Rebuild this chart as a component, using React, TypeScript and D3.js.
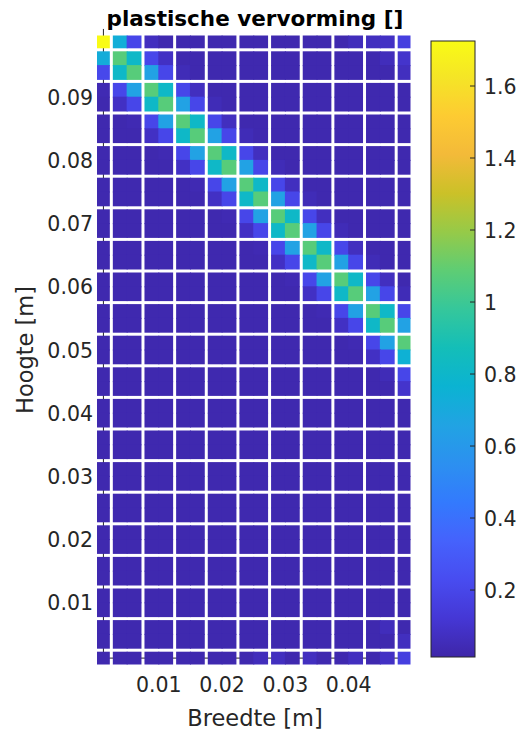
import React, { useMemo } from 'react';
import * as d3 from 'd3';

const WIDTH = 518;
const HEIGHT = 733;

// integration point grid: 20 columns x 40 rows, 0.0025 m each
const nCols = 20;
const nRows = 40;
const cellSize = 0.0025;

const xTicks = [0.01, 0.02, 0.03, 0.04];
const xTickLabels = ['0.01', '0.02', '0.03', '0.04'];
const yTicks = [0.01, 0.02, 0.03, 0.04, 0.05, 0.06, 0.07, 0.08, 0.09];
const yTickLabels = ['0.01', '0.02', '0.03', '0.04', '0.05', '0.06', '0.07', '0.08', '0.09'];
const cbTicks = [0.2, 0.4, 0.6, 0.8, 1.0, 1.2, 1.4, 1.6];
const cbTickLabels = ['0.2', '0.4', '0.6', '0.8', '1', '1.2', '1.4', '1.6'];

const colorMin = 0.014;
const colorMax = 1.725;
const backgroundLevel = 0.03;

// shear band, one entry per row from the top: values at column offsets -3..+3 from the diagonal
const bandRows: (number | null)[][] = [
    [null, null, null, 1.725, 0.73, 0.2, 0.07],
    [null, null, 0.72, 1.07, 0.81, 0.2, 0.08],
    [null, 0.21, 0.81, 1.07, 0.65, 0.2, 0.05],
    [0.04, 0.2, 0.65, 1.07, 0.81, 0.2, 0.07],
    [0.08, 0.2, 0.81, 1.07, 0.65, 0.2, 0.05],
    [0.04, 0.2, 0.65, 1.07, 0.81, 0.2, 0.07],
    [0.08, 0.2, 0.81, 1.07, 0.65, 0.2, 0.05],
    [0.04, 0.2, 0.65, 1.07, 0.81, 0.2, 0.07],
    [0.08, 0.2, 0.81, 1.07, 0.65, 0.2, 0.05],
    [0.04, 0.2, 0.65, 1.07, 0.81, 0.2, 0.07],
    [0.08, 0.2, 0.81, 1.07, 0.65, 0.2, 0.05],
    [0.04, 0.2, 0.65, 1.07, 0.81, 0.2, 0.07],
    [0.08, 0.2, 0.81, 1.07, 0.65, 0.2, 0.05],
    [0.04, 0.2, 0.65, 1.07, 0.81, 0.2, 0.07],
    [0.08, 0.2, 0.81, 1.07, 0.65, 0.2, 0.05],
    [0.04, 0.2, 0.65, 1.07, 0.81, 0.2, 0.07],
    [0.08, 0.2, 0.81, 1.07, 0.65, 0.2, 0.05],
    [0.04, 0.2, 0.65, 1.07, 0.81, 0.2, null],
    [0.08, 0.2, 0.81, 1.07, 0.65, null, null],
    [0.04, 0.2, 0.65, 1.07, null, null, null],
    [0.08, 0.2, 0.75, null, null, null, null],
    [0.05, 0.2, null, null, null, null, null],
    [0.1, null, null, null, null, null, null],
];

// slightly lighter cells in the otherwise flat background: [row, col, value]
const faintCells: [number, number, number][] = [
    [0, 16, 0.06], [0, 17, 0.07], [0, 18, 0.08], [0, 19, 0.16],
    [1, 18, 0.06], [1, 19, 0.1], [2, 19, 0.07],
    [39, 10, 0.06], [39, 11, 0.07], [39, 13, 0.07], [39, 16, 0.07], [39, 18, 0.08], [39, 19, 0.16],
    [38, 19, 0.07], [37, 18, 0.06],
];

// MATLAB parula, every 16th entry of the 256-entry table
const parula: [number, number, number][] = [
    [0.2422, 0.1504, 0.6603], [0.2704, 0.2138, 0.8346], [0.2813, 0.2985, 0.9397],
    [0.2710, 0.3860, 0.9898], [0.2006, 0.4803, 0.9906], [0.1716, 0.5655, 0.9393],
    [0.1288, 0.6408, 0.8910], [0.0433, 0.7039, 0.8242], [0.0770, 0.7468, 0.7224],
    [0.2061, 0.7808, 0.6065], [0.3671, 0.8021, 0.4563], [0.5886, 0.7913, 0.2833],
    [0.7945, 0.7554, 0.1570], [0.9523, 0.7284, 0.2237], [0.9938, 0.7974, 0.1974],
    [0.9601, 0.8963, 0.1507], [0.9769, 0.9839, 0.0805],
];

const FONT = '"DejaVu Sans", sans-serif';
const AXIS_COLOR = '#262626';

export default function App() {
    const x = d3.scaleLinear().domain([0, 0.05]).range([95.5, 412]);
    const y = d3.scaleLinear().domain([0, 0.1]).range([666, 34]);
    const cb = d3.scaleLinear().domain([colorMin, colorMax]).range([657, 41]);

    const stopT = parula.map((_, i) => Math.min(1, (i * 16) / 255));
    const stopColors = parula.map(([r, g, b]) => d3.rgb(r * 255, g * 255, b * 255).formatHex());
    const tScale = d3.scaleLinear().domain([colorMin, colorMax]).range([0, 1]).clamp(true);
    const colorOfT = d3.scaleLinear<string>().domain(stopT).range(stopColors).interpolate(d3.interpolateRgb);
    const color = (v: number) => colorOfT(tScale(v));

    const grid = useMemo(() => {
        const g: number[][] = d3.range(nRows).map(() => d3.range(nCols).map(() => backgroundLevel));
        faintCells.forEach(([r, c, v]) => { g[r][c] = v; });
        bandRows.forEach((vals, r) => {
            vals.forEach((v, k) => {
                const c = r + k - 3;
                if (v !== null && c >= 0 && c < nCols) g[r][c] = v;
            });
        });
        return g;
    }, []);

    // elements group the points in pairs, shifted by one: [0], [1,2], ... , [17,18], [19]
    const gap = 1.5;
    const cells: JSX.Element[] = [];
    grid.forEach((row, r) => {
        row.forEach((v, c) => {
            const leftEdge = c === 0 || c % 2 === 1;
            const rightEdge = c === nCols - 1 || c % 2 === 0;
            const topEdge = r === 0 || r % 2 === 1;
            const bottomEdge = r === nRows - 1 || r % 2 === 0;
            const x0 = x(c * cellSize) + (leftEdge ? gap : -0.5);
            const x1 = x((c + 1) * cellSize) - (rightEdge ? gap : -0.5);
            const yTop = y(0.1 - r * cellSize) + (topEdge ? gap : -0.5);
            const yBot = y(0.1 - (r + 1) * cellSize) - (bottomEdge ? gap : -0.5);
            cells.push(
                <rect key={`${r}-${c}`} x={x0} y={yTop} width={x1 - x0} height={yBot - yTop} fill={color(v)} />
            );
        });
    });

    const axisX = x(cellSize / 2);
    const axisY = y(cellSize / 2);
    const cbLeft = 431;
    const cbRight = 475;

    return (
        <svg width={WIDTH} height={HEIGHT} style={{ position: 'absolute', left: 0, top: 0, background: '#fff' }}
            fontFamily={FONT}>
            <defs>
                <linearGradient id="parula" x1="0" y1="1" x2="0" y2="0">
                    {stopT.map((t, i) => <stop key={i} offset={t} stopColor={stopColors[i]} />)}
                </linearGradient>
            </defs>

            {/* axis lines sit underneath the element patches */}
            <line x1={axisX} x2={axisX} y1={axisY} y2={y(0.1008)} stroke={AXIS_COLOR} strokeWidth={1} />
            <line x1={axisX} x2={x(0.04875)} y1={axisY} y2={axisY} stroke={AXIS_COLOR} strokeWidth={1} />

            <g>{cells}</g>

            {/* tick labels */}
            {xTicks.map((t, i) => (
                <text key={`xt${i}`} x={x(t)} y={692} textAnchor="middle" fontSize={20.5} fill={AXIS_COLOR}>
                    {xTickLabels[i]}
                </text>
            ))}
            {yTicks.map((t, i) => (
                <text key={`yt${i}`} x={93} y={y(t) + 7.5} textAnchor="end" fontSize={20.5} fill={AXIS_COLOR}>
                    {yTickLabels[i]}
                </text>
            ))}

            <text x={255} y={726} textAnchor="middle" fontSize={22.5} fill={AXIS_COLOR}>Breedte [m]</text>
            <text transform={`translate(33, ${y(0.05)}) rotate(-90)`} textAnchor="middle" fontSize={22.5} fill={AXIS_COLOR}>
                Hoogte [m]
            </text>
            <text x={255} y={26} textAnchor="middle" fontSize={21.5} fontWeight="bold" fill="#000">
                plastische vervorming []
            </text>

            {/* colorbar */}
            <rect x={cbLeft} y={cb(colorMax)} width={cbRight - cbLeft} height={cb(colorMin) - cb(colorMax)}
                fill="url(#parula)" stroke={AXIS_COLOR} strokeWidth={1} />
            {cbTicks.map((t, i) => (
                <g key={`cb${i}`}>
                    <line x1={cbRight - 5} x2={cbRight} y1={cb(t)} y2={cb(t)} stroke={AXIS_COLOR} strokeWidth={1} />
                    <text x={484} y={cb(t) + 7.5} fontSize={20.5} fill={AXIS_COLOR}>{cbTickLabels[i]}</text>
                </g>
            ))}
        </svg>
    );
}
